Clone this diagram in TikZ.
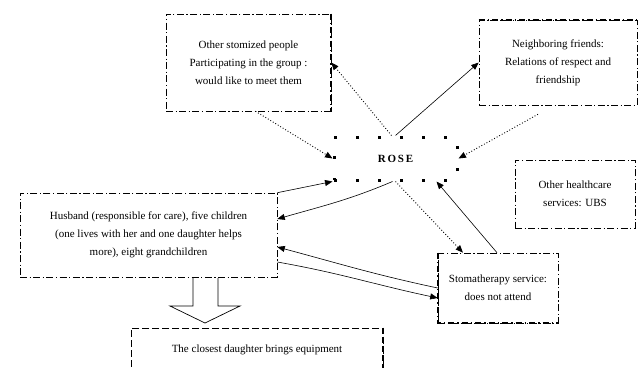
\documentclass[tikz,border=0pt]{standalone}
\usepackage{fontspec}
\setmainfont{Liberation Serif}
\usetikzlibrary{arrows.meta}

\begin{document}
\begin{tikzpicture}[x=1pt, y=-1pt, >={Triangle[length=7.5pt,width=6pt]}, line width=0.5pt,
    every node/.style={font=\fontsize{11}{18}\selectfont, align=center, inner sep=0pt},
    box/.style={draw, dash pattern=on 7pt off 2.5pt on 1.2pt off 2.5pt, line width=0.6pt},
    boxdash/.style={draw, dash pattern=on 7pt off 3pt, line width=0.6pt},
    edgebold/.style={line width=2.2pt, dash pattern=on 6pt off 3pt on 1.5pt off 3pt},
    rosebox/.style={draw, line width=3pt, dash pattern=on 3pt off 19pt, font=\fontsize{11}{12}\selectfont\bfseries},
    link/.style={->, line width=0.6pt},
    dotlink/.style={->, line width=0.9pt, dotted}]
  % 1. frame
  \clip (0,0) rectangle (640,367);

  % 2. nodes
  \node[rosebox, minimum width=123pt, minimum height=43pt] (rose) at (395.5,158.5) {R\,O\,S\,E};
  \node[box, minimum width=165pt, minimum height=97pt] (other) at (248.5,62.5)
    {Other stomized people\\Participating in the group :\\would like to meet them};
  \node[box, minimum width=158pt, minimum height=85pt] (neigh) at (558,62.5)
    {Neighboring friends:\\Relations of respect and\\friendship};
  \node[box, minimum width=120pt, minimum height=68pt] (health) at (575,194)
    {Other healthcare\\services: UBS};
  \node[box, minimum width=257pt, minimum height=84pt] (family) at (148.5,235)
    {Husband (responsible for care), five children\\(one lives with her and one daughter helps\\more), eight grandchildren};
  \node[box, minimum width=120pt, minimum height=70pt] (stoma) at (498,288)
    {Stomatherapy service:\\does not attend};
  \node[boxdash, minimum width=252pt, minimum height=44pt] (daughter) at (257,350)
    {The closest daughter brings equipment};

  % 3. bold shadow edges
  \draw[edgebold] (other.north east) -- (other.south east);
  \draw[edgebold] (neigh.north west) -- (neigh.north east);
  \draw[edgebold] (stoma.north west) -- (stoma.south west) -- (stoma.south east);
  \draw[line width=2.2pt, dash pattern=on 6pt off 3pt] (daughter.north east) -- (daughter.south east);

  % 4. connectors
  \draw[dotlink] ([xshift=7pt]other.south) -- (rose.west);
  \draw[dotlink] ([xshift=-4pt]rose.north) -- (other.east);
  \draw[link] (rose.north) -- (neigh.west);
  \draw[dotlink] ([xshift=-20pt,yshift=-9pt]neigh.south) -- (rose.east);
  \draw[link] (family.north east) -- (rose.south west);
  \draw[link] ([xshift=-3pt]rose.south) to[out=203, in=16] ([yshift=16pt]family.east);
  \draw[dotlink] (rose.south) -- ([xshift=-35pt]stoma.north);
  \draw[link] ([xshift=-1pt]stoma.north) -- ([xshift=41pt]rose.south);
  \draw[link] (stoma.west) to[out=168, in=-15] ([yshift=-12pt]family.east);
  \draw[link] ([yshift=-27pt]family.east) to[out=-10, in=168] ([yshift=-10pt]stoma.west);

  % 5. hollow arrow down to the daughter box
  \draw[line width=0.7pt] (193,278) -- (193,306) -- (170,306) -- (205,323) -- (240,306) -- (218,306) -- (218,278);
\end{tikzpicture}
\end{document}
